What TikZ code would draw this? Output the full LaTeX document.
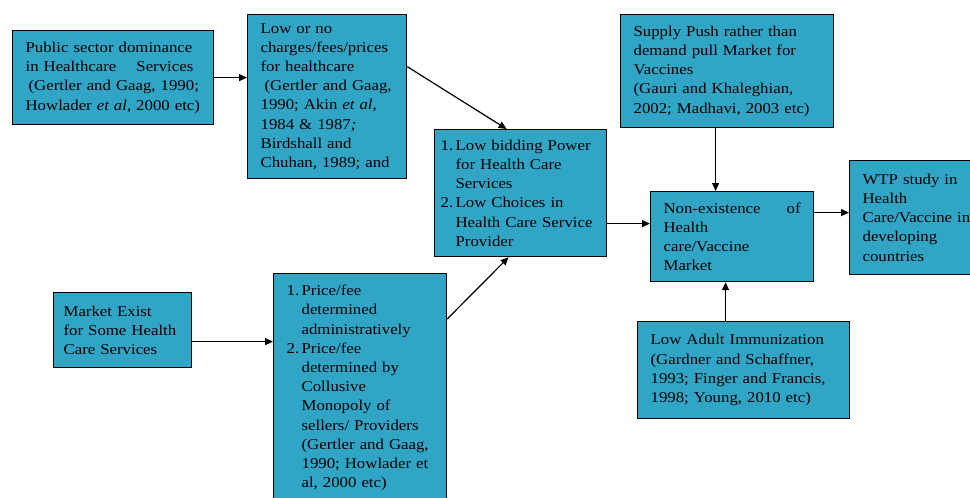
\documentclass[tikz,border=0pt]{standalone}
\usepackage{fontspec}
\setmainfont{Liberation Serif}[FakeStretch=1.12]
\usetikzlibrary{arrows.meta}
\definecolor{boxblue}{RGB}{48,165,198}
\newcommand\itemlab[1]{\makebox[15pt][l]{#1}}
\newcommand\itemind{\hspace*{15pt}}

\begin{document}
\begin{tikzpicture}[x=1pt,y=-1pt,line width=1.2pt,>={Triangle[length=8pt,width=7pt]},
  every node/.style={font=\fontsize{15}{19.2}\selectfont},
  blk/.style={draw,fill=boxblue,anchor=north west,align=left,inner xsep=13pt,inner ysep=0pt}]
\useasboundingbox (0,0) rectangle (970,498);
\node[blk,text width=175pt,minimum height=94pt](pub)at(12,30){Public sector dominance\\
  in Healthcare\hspace{1em} Services\\ \hspace*{3pt}(Gertler and Gaag, 1990;\\ Howlader \textit{et al}, 2000 etc)};
\node[blk,text width=133pt,minimum height=164pt](low)at(247,14){Low or no\\ charges/fees/prices\\
  for healthcare\\ \hspace*{4pt}(Gertler and Gaag,\\ 1990; Akin \textit{et al},\\ 1984 \& 1987\textit{;}\\
  Birdshall and\\ Chuhan, 1989; and};
\node[blk,inner xsep=6pt,text width=160pt,minimum height=127pt](bid)at(434,129){\itemlab{1.}Low bidding Power\\
  \itemind for Health Care\\ \itemind Services\\ \itemlab{2.}Low Choices in\\ \itemind Health Care Service\\ \itemind Provider};
\node[blk,text width=187pt,minimum height=113pt](sup)at(620,14){Supply Push rather than\\ demand pull Market for\\
  Vaccines\\ (Gauri and Khaleghian,\\ 2002; Madhavi, 2003 etc)};
\node[blk,text width=137pt,minimum height=90pt](non)at(650,191){Non-existence\hfill of\\ Health\\ care/Vaccine\\ Market};
\node[blk,text width=115pt,minimum height=114pt](wtp)at(849,160){WTP study in\\ Health\\ Care/Vaccine in\\ developing\\ countries};
\node[blk,inner xsep=10pt,text width=118pt,minimum height=75pt](mkt)at(53,292){Market Exist\\ for Some Health\\ Care Services};
\node[blk,text width=147pt,minimum height=229pt](price)at(273,273){\itemlab{1.}Price/fee\\ \itemind determined\\
  \itemind administratively\\ \itemlab{2.}Price/fee\\ \itemind determined by\\ \itemind Collusive\\ \itemind Monopoly of\\
  \itemind sellers/ Providers\\ \itemind (Gertler and Gaag,\\ \itemind 1990; Howlader et\\ \itemind al, 2000 etc)};
\node[blk,text width=186pt,minimum height=97pt](adult)at(637,321){Low Adult Immunization\\ (Gardner and Schaffner,\\
  1993; Finger and Francis,\\ 1998; Young, 2010 etc)};
% connectors
\foreach \a/\b/\s in {pub/low/0,mkt/price/-11.5,bid/non/-30.5,non/wtp/24}
  \draw[->]([yshift=\s pt]\a.east)--([yshift=\s pt]\a.east-|\b.west);
\draw[->]([xshift=-11.5pt]sup.south)--([xshift=-11.5pt]sup.south|-non.north);
\draw[->]([xshift=-18pt]adult.north)--([xshift=-18pt]adult.north|-non.south);
\draw[->]([yshift=30pt]low.east)--([xshift=-14pt]bid.north);
\draw[->]([yshift=-46pt]price.north east)--([xshift=-12pt]bid.south);
\end{tikzpicture}
\end{document}
